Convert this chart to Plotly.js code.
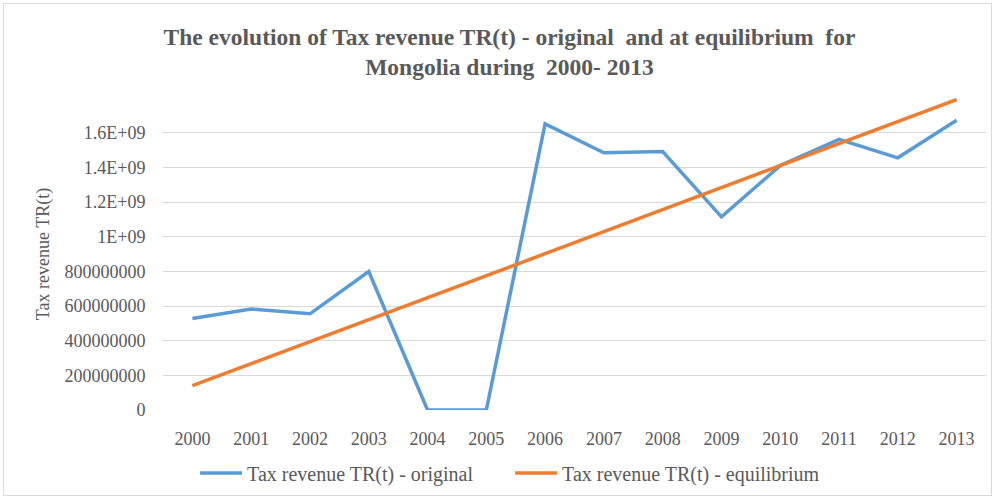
<!DOCTYPE html>
<html>
<head>
<meta charset="utf-8">
<script src="https://cdn.plot.ly/plotly-3.0.1.min.js"></script>
<style>
html,body{margin:0;padding:0;background:#fff;}
#chart{width:995px;height:499px;}
#frame{position:absolute;left:3px;top:3px;width:989px;height:493px;border:1px solid #d9d9d9;pointer-events:none;box-sizing:border-box;}
</style>
</head>
<body>
<div id="chart"></div>
<div id="frame"></div>
<script>
const years = ['2000','2001','2002','2003','2004','2005','2006','2007','2008','2009','2010','2011','2012','2013'];
const original = [528e6, 582e6, 555e6, 799e6, 0, 0, 1651e6, 1484e6, 1491e6, 1114e6, 1410e6, 1561e6, 1455e6, 1672e6];
const equilibrium = [140e6, 267e6, 394e6, 521e6, 648e6, 775e6, 902e6, 1029e6, 1156e6, 1283e6, 1410e6, 1537e6, 1664e6, 1791e6];
const yTickVals = [0, 2e8, 4e8, 6e8, 8e8, 1e9, 1.2e9, 1.4e9, 1.6e9];
const yTickText = ['0','200000000','400000000','600000000','800000000','1E+09','1.2E+09','1.4E+09','1.6E+09'];

const serif = '"Liberation Serif", "Times New Roman", serif';
const gray = '#595959';

const traces = [
  {x: years, y: original, type: 'scatter', mode: 'lines', name: 'Tax revenue TR(t) - original',
   line: {color: '#5B9BD5', width: 3.5}},
  {x: years, y: equilibrium, type: 'scatter', mode: 'lines', name: 'Tax revenue TR(t) - equilibrium',
   line: {color: '#ED7D31', width: 3.5}}
];

const layout = {
  width: 995, height: 499,
  margin: {l: 163, r: 9, t: 98, b: 89},
  paper_bgcolor: '#fff', plot_bgcolor: '#fff',
  font: {family: serif, color: gray, size: 18},
  title: {text: '<b>The evolution of Tax revenue TR(t) - original  and at equilibrium  for<br>Mongolia during  2000- 2013</b>',
          font: {family: serif, size: 23.5, color: gray}, x: 0.512, xanchor: 'center', y: 0.91, yanchor: 'top'},
  xaxis: {type: 'category', range: [-0.5, 13.5], showgrid: false, zeroline: false, showline: false, ticks: '',
          ticklabelstandoff: 16,
          tickfont: {family: serif, size: 18, color: gray}, automargin: false},
  yaxis: {range: [0, 1.8e9], tickvals: yTickVals, ticktext: yTickText, showgrid: true, gridcolor: '#d9d9d9', gridwidth: 1,
          zeroline: false, showline: false, ticks: 'outside', ticklen: 13, tickcolor: 'rgba(0,0,0,0)',
          tickfont: {family: serif, size: 18, color: gray}, automargin: false,
          title: {text: 'Tax revenue TR(t)', font: {family: serif, size: 18, color: gray}, standoff: 10}},
  showlegend: true,
  legend: {orientation: 'h', x: 0.039, xanchor: 'left', yref: 'container', y: 0.052, yanchor: 'middle', itemwidth: 42,
           font: {family: serif, size: 20, color: gray}, entrywidth: 258, bgcolor: 'rgba(0,0,0,0)'}
};

Plotly.newPlot('chart', traces, layout, {displayModeBar: false, staticPlot: true});
</script>
</body>
</html>
